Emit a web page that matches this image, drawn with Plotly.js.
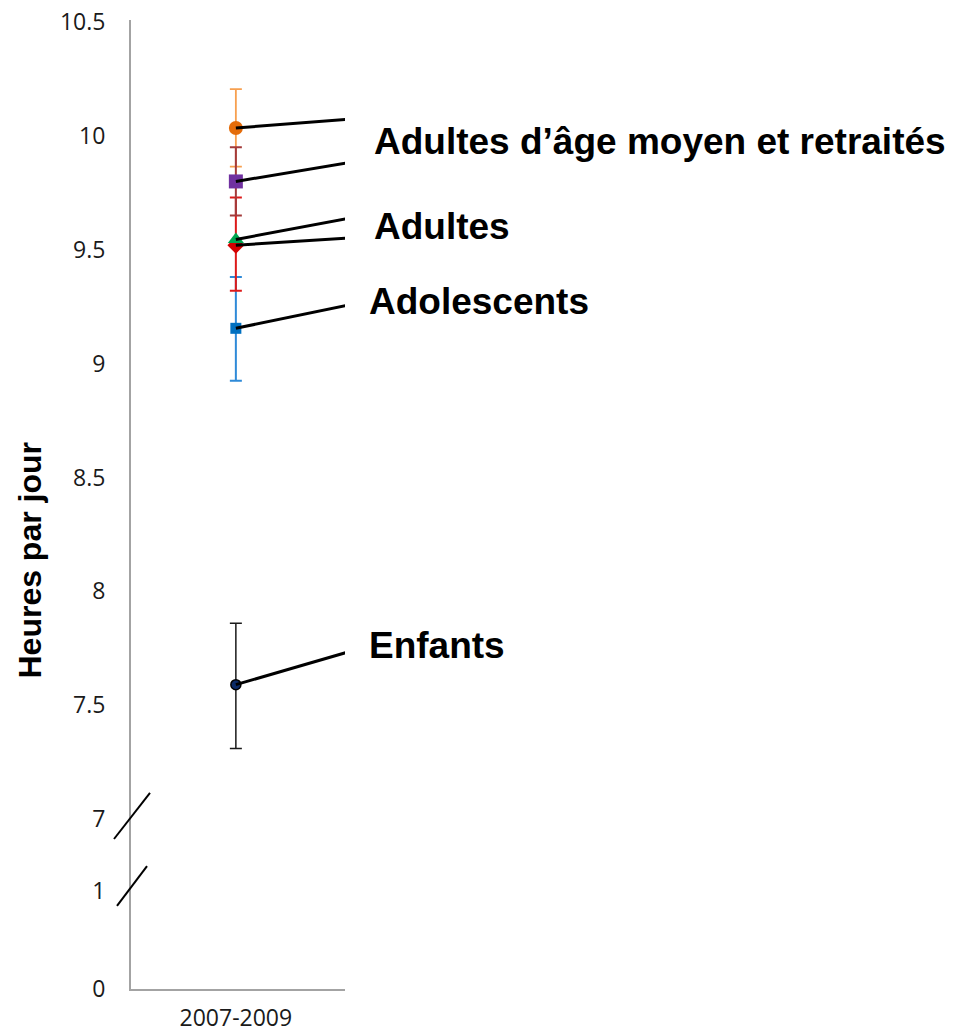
<!DOCTYPE html>
<html><head><meta charset="utf-8">
<script src="https://cdn.plot.ly/plotly-3.0.1.min.js"></script>
<style>html,body{margin:0;padding:0;background:#fff}</style>
</head><body>
<div id="chart" style="width:957px;height:1034px"></div>
<script>
// ---- data ----
const periods = ["2007-2009"];

const enfantsHours = [7.59];
const enfantsErrPlus = [0.27];
const enfantsErrMinus = [0.28];

const adolescentsHours = [9.155];
const adolescentsErrPlus = [0.225];
const adolescentsErrMinus = [0.23];

const adultesRougeHours = [9.52];
const adultesRougeErrPlus = [0.21];
const adultesRougeErrMinus = [0.20];

const adultesVertHours = [9.545];

const moyenAgeHours = [9.80];
const moyenAgeErr = [0.15];

const retraitesHours = [10.035];
const retraitesErr = [0.17];

const upperTickVals = [7, 7.5, 8, 8.5, 9, 9.5, 10, 10.5];
const upperTickText = ["7", "7.5", "8", "8.5", "9", "9.5", "10", "10.5"];
const lowerTickVals = [0, 1];
const lowerTickText = ["0", "1"];

const labelTexts = ["Adultes d’âge moyen et retraités", "Adultes", "Adolescents", "Enfants"];
const yTitle = "Heures par jour";

// ---- traces ----
function errBar(plus, minus, color, thick) {
  return {type: 'data', symmetric: false, array: plus, arrayminus: minus,
          color: color, thickness: thick, width: 6, visible: true};
}

const traces = [
  {x: [], y: [], xaxis: 'x', yaxis: 'y', type: 'scatter', mode: 'markers', showlegend: false},
  {name: 'Enfants', x: periods, y: enfantsHours, xaxis: 'x', yaxis: 'y2', type: 'scatter', mode: 'markers',
   marker: {symbol: 'circle', size: 10, color: '#0b2a66', line: {color: '#000', width: 1.5}},
   error_y: errBar(enfantsErrPlus, enfantsErrMinus, '#1a1a1a', 1.5)},
  {name: 'Adolescents', x: periods, y: adolescentsHours, xaxis: 'x', yaxis: 'y2', type: 'scatter', mode: 'markers',
   marker: {symbol: 'square', size: 11, color: '#0070C0'},
   error_y: errBar(adolescentsErrPlus, adolescentsErrMinus, '#2f8ad8', 2)},
  {name: 'Adultes 1', x: periods, y: adultesRougeHours, xaxis: 'x', yaxis: 'y2', type: 'scatter', mode: 'markers',
   marker: {symbol: 'diamond', size: 13, color: '#d40000'},
   error_y: errBar(adultesRougeErrPlus, adultesRougeErrMinus, '#dd1a1a', 2)},
  {name: 'Adultes 2', x: periods, y: adultesVertHours, xaxis: 'x', yaxis: 'y2', type: 'scatter', mode: 'markers',
   marker: {symbol: 'triangle-up', size: 14, color: '#00A650'}},
  {name: 'Retraités', x: periods, y: retraitesHours, xaxis: 'x', yaxis: 'y2', type: 'scatter', mode: 'markers',
   marker: {symbol: 'circle', size: 14, color: '#E46C0A'},
   error_y: errBar(retraitesErr, retraitesErr, '#F7A050', 1.8)},
  {name: "Adultes d’âge moyen", x: periods, y: moyenAgeHours, xaxis: 'x', yaxis: 'y2', type: 'scatter', mode: 'markers',
   marker: {symbol: 'square', size: 14, color: '#7030A0'},
   error_y: errBar(moyenAgeErr, moyenAgeErr, '#a33a3a', 2)}
];

// ---- leader lines (pixel-sized shapes anchored at each point) ----
const leaderSpecs = [
  {v: retraitesHours[0], dy: 8.4},
  {v: moyenAgeHours[0], dy: 18.3},
  {v: adultesVertHours[0], dy: 20.7},
  {v: adultesRougeHours[0], dy: 7.0},
  {v: adolescentsHours[0], dy: 22.7},
  {v: enfantsHours[0], dy: 32}
];
const shapes = leaderSpecs.map(s => ({
  type: 'line', xref: 'x', yref: 'y2', xsizemode: 'pixel', ysizemode: 'pixel',
  xanchor: periods[0], yanchor: s.v, x0: 0, y0: 0, x1: 110, y1: s.dy,
  line: {color: '#000', width: 3}
}));
// axis break marks
shapes.push({type: 'line', xref: 'paper', yref: 'paper', x0: -0.0794, y0: 0.1548, x1: 0.0888, y1: 0.2023,
             line: {color: '#000', width: 2}});
shapes.push({type: 'line', xref: 'paper', yref: 'paper', x0: -0.0654, y0: 0.0857, x1: 0.0748, y1: 0.1269,
             line: {color: '#000', width: 2}});

const labelFont = {family: 'Liberation Sans, Arial, sans-serif', size: 37, color: '#000', weight: 'bold'};
const labelPos = [
  {x: 1.1262, y: 0.8751},
  {x: 1.1262, y: 0.7864},
  {x: 1.1028, y: 0.7090},
  {x: 1.1028, y: 0.3540}
];
const annotations = labelTexts.map((t, i) => ({
  text: t, xref: 'paper', yref: 'paper', x: labelPos[i].x, y: labelPos[i].y,
  xanchor: 'left', yanchor: 'middle', showarrow: false, font: labelFont
}));
annotations.push({
  text: yTitle, xref: 'paper', yref: 'paper', x: -0.4696, y: 0.4427, textangle: -90,
  xanchor: 'center', yanchor: 'middle', showarrow: false,
  font: {family: 'Liberation Sans, Arial, sans-serif', size: 32, color: '#000', weight: 'bold'}
});

const tickFont = {family: 'Open Sans, sans-serif', size: 23, color: '#1a1a1a'};
const xTickFont = {family: 'Open Sans, sans-serif', size: 23, color: '#1a1a1a'};
const axisColor = '#a3a3a3';

const layout = {
  width: 957, height: 1034,
  margin: {l: 131, r: 612, t: 20, b: 45, pad: 0},
  paper_bgcolor: '#fff', plot_bgcolor: '#fff',
  showlegend: false,
  xaxis: {type: 'category', range: [-0.49, 0.51], anchor: 'y', showline: true, linecolor: axisColor, linewidth: 2,
          showgrid: false, zeroline: false, ticks: '', tickfont: xTickFont, ticklabelstandoff: 7, fixedrange: true},
  yaxis: {domain: [0, 0.1383], range: [0, 1.367], anchor: 'x', showline: true, linecolor: axisColor, linewidth: 2,
          showgrid: false, zeroline: false, ticks: '', tickvals: lowerTickVals, ticktext: lowerTickText,
          tickfont: tickFont, ticklabelstandoff: 19, fixedrange: true},
  yaxis2: {domain: [0.1383, 1], range: [6.842, 10.509], anchor: 'x', showline: true, linecolor: axisColor, linewidth: 2,
          showgrid: false, zeroline: false, ticks: '', tickvals: upperTickVals, ticktext: upperTickText,
          tickfont: tickFont, ticklabelstandoff: 19, fixedrange: true},
  shapes: shapes,
  annotations: annotations
};

Plotly.newPlot('chart', traces, layout, {displayModeBar: false, staticPlot: true});
</script>
</body></html>
